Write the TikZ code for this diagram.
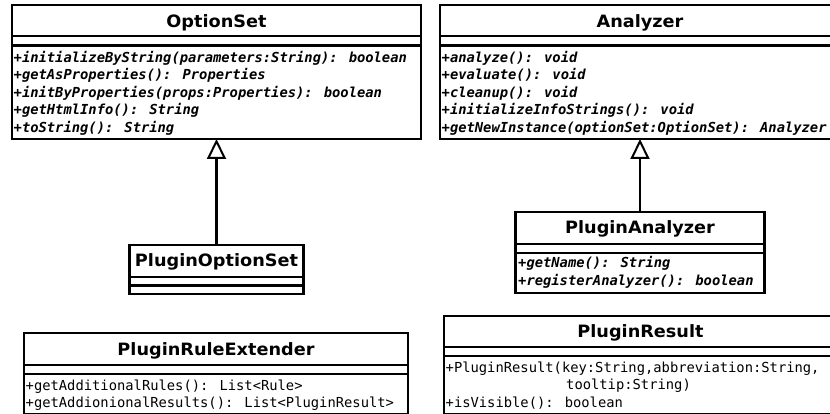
\documentclass[tikz,border=0pt]{standalone}
\usepackage{fontspec}
\usetikzlibrary{arrows.meta}
\newfontfamily\umlmono{DejaVu Sans Mono}
\newfontfamily\umlhead[FakeStretch=1.04]{DejaVu Sans}
\tikzset{
  classbox/.style={draw, line width=2.2pt, rectangle, inner sep=0pt, outer sep=0pt, anchor=north west},
  sepline/.style={line width=2.2pt},
  classname/.style={anchor=base, inner sep=0pt, font=\umlhead\bfseries\fontsize{17}{19}\selectfont},
  absop/.style={anchor=base west, inner sep=0pt, font=\umlmono\bfseries\itshape\fontsize{13.8}{16}\selectfont},
  plainop/.style={anchor=base west, inner sep=0pt, font=\umlmono\fontsize{13.8}{16}\selectfont},
  generalization/.style={line width=2.2pt, -{Triangle[open, length=20pt, width=19pt, line width=2pt]}}
}
\begin{document}
\begin{tikzpicture}[x=1pt, y=-1pt]
\useasboundingbox (0,0) rectangle (830,414);
\clip (0,0) rectangle (830,414);

% ---- OptionSet ----
\node[classbox, minimum width=409pt, minimum height=134pt] (optionset) at (12,5) {};
\draw[sepline] (12,36) -- (421,36) (12,45.5) -- (421,45.5);
\node[classname] (optionset-name) at (216.5,27.5) {OptionSet};
\node[absop] (os1) at (13.5,62.5) {+initializeByString(parameters:String): boolean};
\node[absop] (os2) at (13.5,80) {+getAsProperties(): Properties};
\node[absop] (os3) at (13.5,97.5) {+initByProperties(props:Properties): boolean};
\node[absop] (os4) at (13.5,115) {+getHtmlInfo(): String};
\node[absop] (os5) at (13.5,132.5) {+toString(): String};

% ---- Analyzer ----
\node[classbox, minimum width=400pt, minimum height=134pt] (analyzer) at (440,5) {};
\draw[sepline] (440,36) -- (840,36) (440,45.5) -- (840,45.5);
\node[classname] (analyzer-name) at (640,27.5) {Analyzer};
\node[absop] (an1) at (441.5,62.5) {+analyze(): void};
\node[absop] (an2) at (441.5,80) {+evaluate(): void};
\node[absop] (an3) at (441.5,97.5) {+cleanup(): void};
\node[absop] (an4) at (441.5,115) {+initializeInfoStrings(): void};
\node[absop] (an5) at (441.5,132.5) {+getNewInstance(optionSet:OptionSet): Analyzer};

% ---- PluginOptionSet ----
\node[classbox, minimum width=174pt, minimum height=49pt] (pluginoptionset) at (129.5,245) {};
\draw[sepline] (129.5,277) -- (303.5,277) (129.5,285.5) -- (303.5,285.5);
\node[classname] (pluginoptionset-name) at (216.5,266.5) {PluginOptionSet};

% ---- PluginAnalyzer ----
\node[classbox, minimum width=249pt, minimum height=81pt] (pluginanalyzer) at (515.5,212) {};
\draw[sepline] (515.5,244) -- (764.5,244) (515.5,253) -- (764.5,253);
\node[classname] (pluginanalyzer-name) at (640,234) {PluginAnalyzer};
\node[absop] (pa1) at (518,267) {+getName(): String};
\node[absop] (pa2) at (518,285) {+registerAnalyzer(): boolean};

% ---- PluginRuleExtender ----
\node[classbox, minimum width=384pt, minimum height=81pt] (pluginruleextender) at (24,333) {};
\draw[sepline] (24,365) -- (408,365) (24,374) -- (408,374);
\node[classname] (pluginruleextender-name) at (216,355) {PluginRuleExtender};
\node[plainop] (re1) at (25.5,390) {+getAdditionalRules(): List<Rule>};
\node[plainop] (re2) at (25.5,407) {+getAddionionalResults(): List<PluginResult>};

% ---- PluginResult ----
\node[classbox, minimum width=393pt, minimum height=98pt] (pluginresult) at (444,316) {};
\draw[sepline] (444,347) -- (837,347) (444,356) -- (837,356);
\node[classname] (pluginresult-name) at (640.5,337) {PluginResult};
\node[plainop] (pr1) at (445.5,372) {+PluginResult(key:String,abbreviation:String,};
\node[plainop] (pr2) at (566,389.5) {tooltip:String)};
\node[plainop] (pr3) at (445.5,407) {+isVisible(): boolean};

% ---- generalizations ----
\draw[generalization] (pluginoptionset.north) -- (optionset.south);
\draw[generalization] (pluginanalyzer.north) -- (analyzer.south);
\end{tikzpicture}
\end{document}
